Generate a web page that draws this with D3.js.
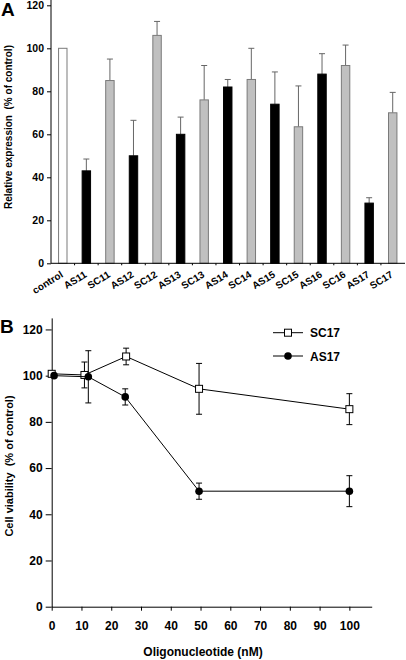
<!DOCTYPE html>
<html><head><meta charset="utf-8">
<script src="https://cdn.jsdelivr.net/npm/d3@7"></script>
<style>body{margin:0;background:#fff}text{font-family:"Liberation Sans",Arial,sans-serif;font-weight:bold;white-space:pre}</style>
</head><body><svg id="c" width="406" height="660"></svg>
<script>
// Panel A data
const categories = ["control","AS11","SC11","AS12","SC12","AS13","SC13","AS14","SC14","AS15","SC15","AS16","SC16","AS17","SC17"];
const expression = [100,43,85,50,106,60,76,82,85.5,74,63.5,88,92,28,70];
const expressionErr = [0,5.5,10,16.5,6.5,8,16,3.5,14.5,15,19,9.5,9.5,2.5,9.5];
const yTicksA = [0,20,40,60,80,100,120];
// Panel B data
const concSC = [0,11,25,49.5,100];
const viabSC = [100.8,100.3,108.3,94.3,85.5];
const errSC = [0,5.6,3.6,11,6.7];
const concAS = [0.8,12.3,24.7,49.5,100];
const viabAS = [100,99.5,90.8,50,50];
const errAS = [0,11.3,3.5,3.5,6.7];
const xTicksB = [0,10,20,30,40,50,60,70,80,90,100];
const yTicksB = [0,20,40,60,80,100,120];

const svg = d3.select("#c");

// ---------- Panel A ----------
const xA = d3.scaleBand().domain(categories).range([51,404.5]).paddingInner(0.6).paddingOuter(0.3);
const yA = d3.scaleLinear().domain([0,120]).range([263.3,5.3]);
const gA = svg.append("g");
const fillFor = c => c==="control" ? "#fff" : (c.startsWith("AS") ? "#000" : "#c0c0c0");
const strokeFor = c => c.startsWith("AS") ? "#000" : "#7a7a7a";
categories.forEach((c,i)=>{
  if(!expressionErr[i]) return;
  const cx = xA(c)+xA.bandwidth()/2;
  const top = yA(expression[i]+expressionErr[i]);
  gA.append("line").attr("x1",cx).attr("x2",cx).attr("y1",yA(expression[i])).attr("y2",top).attr("stroke","#666");
  gA.append("line").attr("x1",cx-3).attr("x2",cx+3).attr("y1",top).attr("y2",top).attr("stroke","#666");
});
gA.selectAll("rect.bar").data(categories).join("rect")
  .attr("x",d=>xA(d)+0.5).attr("y",(d,i)=>yA(expression[i]))
  .attr("width",xA.bandwidth()-1).attr("height",(d,i)=>yA(0)-yA(expression[i]))
  .attr("fill",fillFor).attr("stroke",strokeFor).attr("stroke-width",1);
const axYA = gA.append("g").attr("transform","translate(51,0)")
  .call(d3.axisLeft(yA).tickValues(yTicksA).tickSize(4).tickSizeOuter(0));
axYA.select(".domain").attr("d","M0,"+yA(0)+"V"+yA(122.5));
axYA.selectAll("text").attr("font-size",10.5).attr("font-family","Liberation Sans, Arial").attr("font-weight","bold").attr("fill","#000");
axYA.selectAll("path,line").attr("stroke","#000");
const axXA = gA.append("g").attr("transform","translate(0,"+yA(0)+")");
axXA.append("line").attr("x1",51).attr("x2",405).attr("stroke","#000");
const step = xA.step();
categories.forEach((c,i)=>{
  const cx = xA(c)+xA.bandwidth()/2;
  if(i<categories.length-1) axXA.append("line").attr("x1",cx+step/2).attr("x2",cx+step/2).attr("y1",0).attr("y2",2).attr("stroke","#000");
  axXA.append("text").attr("text-anchor","end").attr("font-size",10)
    .attr("transform","translate("+(cx+1)+",13) rotate(-32)").text(c);
});
gA.append("text").attr("transform","translate(12,127) rotate(-90)").attr("text-anchor","middle").attr("font-size",10).text("Relative expression  (% of control)");
svg.append("text").attr("x",1).attr("y",16).attr("font-size",19).text("A");

// ---------- Panel B ----------
const xB = d3.scaleLinear().domain([0,107.5]).range([51.7,371.7]);
const yB = d3.scaleLinear().domain([0,125]).range([606.7,317.9]);
const gB = svg.append("g");
const axYB = gB.append("g").attr("transform","translate(51.7,0)").call(d3.axisLeft(yB).tickValues(yTicksB).tickSize(6).tickSizeOuter(0));
const axXB = gB.append("g").attr("transform","translate(0,"+yB(0)+")").call(d3.axisBottom(xB).tickValues(xTicksB).tickSize(4).tickSizeOuter(0).tickPadding(11));
[axYB,axXB].forEach(a=>{a.selectAll("text").attr("font-size",12).attr("font-family","Liberation Sans, Arial").attr("font-weight","bold").attr("fill","#000");a.selectAll("path,line").attr("stroke","#000");});
gB.append("text").attr("x",203).attr("y",656).attr("text-anchor","middle").attr("font-size",12).text("Oligonucleotide (nM)");
gB.append("text").attr("transform","translate(13,466) rotate(-90)").attr("text-anchor","middle").attr("font-size",11).text("Cell viability  (% of control)");
svg.append("text").attr("x",0).attr("y",333).attr("font-size",19).text("B");

function marker(g,x,y,kind){
  if(kind==="square") g.append("rect").attr("x",x-3.5).attr("y",y-3.5).attr("width",7).attr("height",7).attr("fill","#fff").attr("stroke","#000");
  else g.append("circle").attr("cx",x).attr("cy",y).attr("r",3.8).attr("fill","#000");
}
function drawSeries(xs, ys, es, kind){
  const pts = xs.map((x,i)=>[xB(x),yB(ys[i])]);
  gB.append("path").attr("d",d3.line()(pts)).attr("fill","none").attr("stroke","#000");
  xs.forEach((x,i)=>{
    if(!es[i]) return;
    const cx=xB(x), t=yB(ys[i]+es[i]), b=yB(ys[i]-es[i]);
    gB.append("line").attr("x1",cx).attr("x2",cx).attr("y1",t).attr("y2",b).attr("stroke","#000");
    gB.append("line").attr("x1",cx-3).attr("x2",cx+3).attr("y1",t).attr("y2",t).attr("stroke","#000");
    gB.append("line").attr("x1",cx-3).attr("x2",cx+3).attr("y1",b).attr("y2",b).attr("stroke","#000");
  });
  pts.forEach(p=>marker(gB,p[0],p[1],kind));
}
drawSeries(concSC,viabSC,errSC,"square");
drawSeries(concAS,viabAS,errAS,"circle");
[["SC17","square",332.7],["AS17","circle",356]].forEach(([lab,kind,y])=>{
  gB.append("line").attr("x1",273).attr("x2",303).attr("y1",y).attr("y2",y).attr("stroke","#000");
  marker(gB,288,y,kind);
  gB.append("text").attr("x",310).attr("y",y+4.5).attr("font-size",12).text(lab);
});
</script></body></html>
